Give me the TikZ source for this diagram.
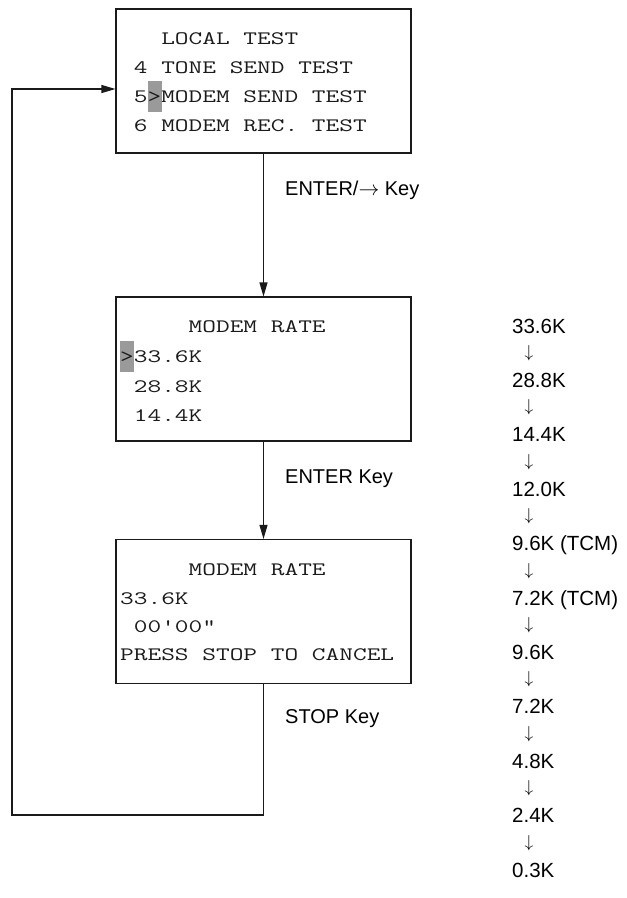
\documentclass[tikz,border=0pt]{standalone}
\usepackage{fontspec}
\setmainfont{Liberation Sans}
\newfontfamily\lcdfont[FakeStretch=1.4]{Latin Modern Mono}
\usetikzlibrary{arrows.meta,positioning,calc}
\definecolor{ink}{HTML}{1A1A1A}
\definecolor{cursorGray}{HTML}{9A9A9A}
\newcommand{\curs}[1]{\rlap{\color{cursorGray}\rule[-10pt]{14pt}{31pt}}#1}

\begin{document}
\begin{tikzpicture}[x=1pt,y=-1pt,
  screen/.style={draw=ink,line width=1.1pt,minimum width=295pt,minimum height=144pt,inner sep=0pt},
  lcd/.style={font=\lcdfont\fontsize{19}{22}\selectfont,anchor=base west,inner sep=0pt,color=ink},
  keylbl/.style={font=\fontsize{20}{24}\selectfont,anchor=base west,inner sep=0pt},
  ratelbl/.style={font=\fontsize{20.5}{24}\selectfont,anchor=base west,inner sep=0pt},
  down/.style={font=\fontsize{19}{22}\selectfont,inner sep=0pt},
  arr/.style={-{Triangle[length=14pt,width=8pt]},line width=1.1pt,color=ink}
]
  \useasboundingbox (0,0) rectangle (627,898);
  \node[screen] (local) at (263.5,81) {};
  \node[screen] (rate) at (263.5,369) {};
  \node[screen] (run) at (263.5,611.5) {};
  % screen texts
  \node[lcd] (local1) at (120,44) {\ \ \ LOCAL TEST};
  \node[lcd] (local2) at (120,73) {\ 4 TONE SEND TEST};
  \node[lcd] (local3) at (120,102) {\ 5\curs{>}MODEM SEND TEST};
  \node[lcd] (local4) at (120,131) {\ 6 MODEM REC. TEST};
  \node[lcd] (rate1) at (120,332) {\ \ \ \ \ MODEM RATE};
  \node[lcd] (rate2) at (120,362) {\curs{>}33.6K};
  \node[lcd] (rate3) at (120,392) {\ 28.8K};
  \node[lcd] (rate4) at (120,421) {\ 14.4K};
  \node[lcd] (run1) at (120,575) {\ \ \ \ \ MODEM RATE};
  \node[lcd] (run2) at (120,604) {33.6K};
  \node[lcd] (run3) at (120,632) {\ 00'00"};
  \node[lcd] (run4) at (120,660) {PRESS STOP TO CANCEL};
  % keys
  \coordinate (loop) at (12,815);
  \draw[arr] (local) -- (rate);
  \draw[arr] (rate) -- (run);
  \draw[arr] (run.south) |- (loop) |- ($(local.west)+(0,8)$);
  \node[keylbl] (enterarrow) at (285,195) {ENTER/$\rightarrow$ Key};
  \node[keylbl] (enter) at (285,483) {ENTER Key};
  \node[keylbl] (stop) at (285,723) {STOP Key};
  % rate fallback list
  \foreach \r [count=\i from 0] in {33.6K,28.8K,14.4K,12.0K,9.6K (TCM),7.2K (TCM),9.6K,7.2K,4.8K,2.4K,0.3K}
    \node[ratelbl] (r\i) at (512,333+54.4*\i) {\r};
  \foreach \i in {0,...,9}
    \node[down] (d\i) at (529,353.2+54.4*\i) {$\downarrow$};
\end{tikzpicture}
\end{document}
